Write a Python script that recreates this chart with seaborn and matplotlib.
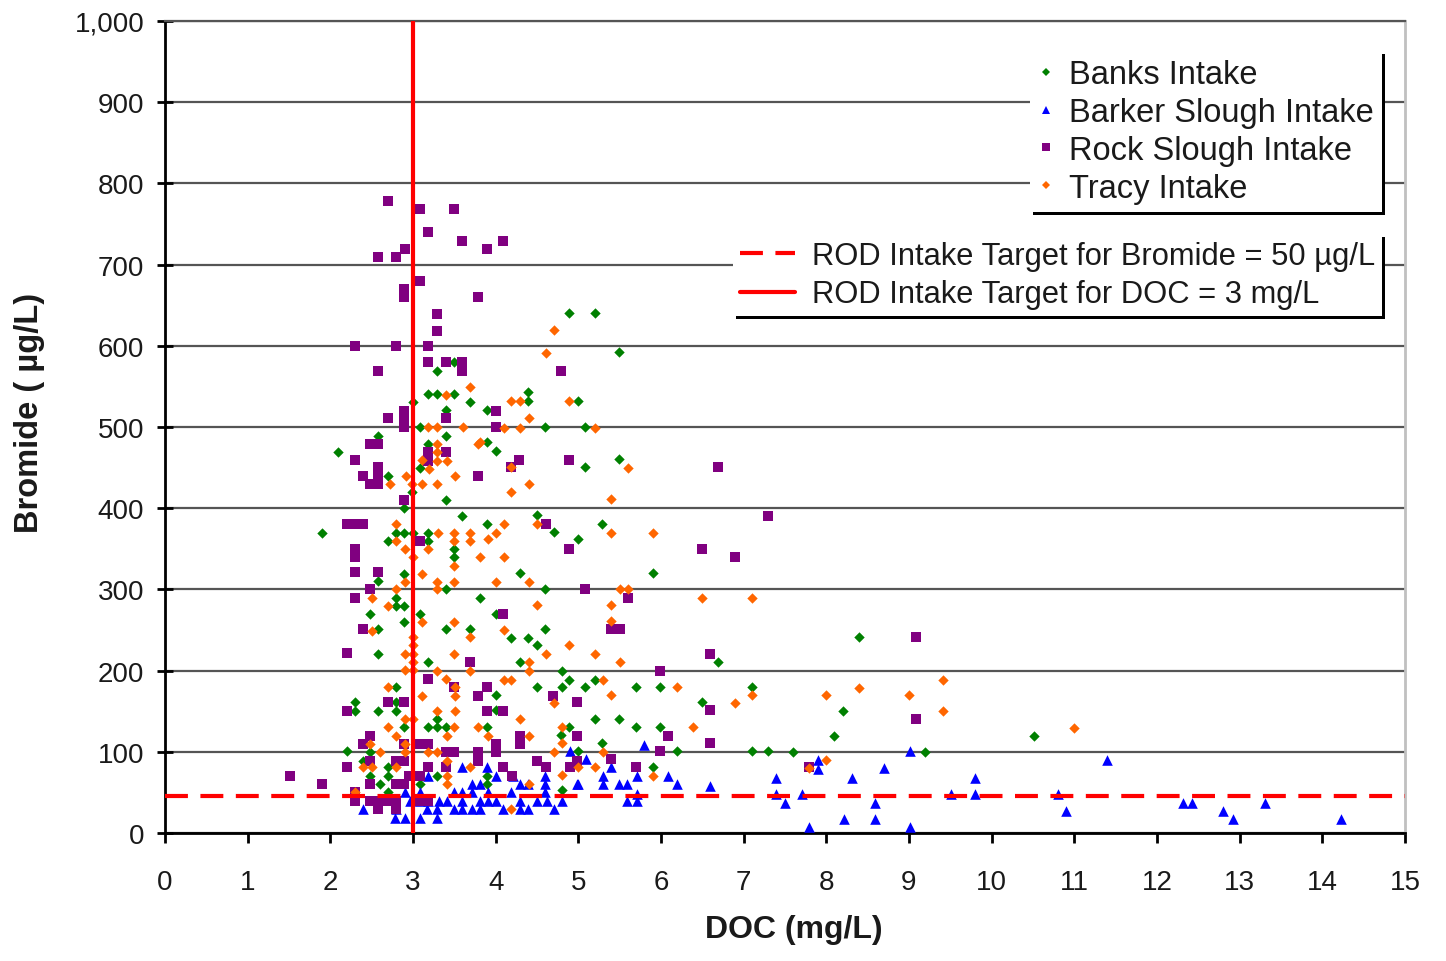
import matplotlib
matplotlib.use("Agg")
import matplotlib.pyplot as plt
import seaborn as sns
import pandas as pd
from matplotlib.lines import Line2D
from matplotlib.ticker import FuncFormatter

# ---------------- data ----------------
series_names = ["Banks Intake", "Barker Slough Intake", "Rock Slough Intake", "Tracy Intake"]

banks_doc = [3.29, 3.49, 3.18, 3.29, 3.49, 3.69, 3.0, 3.40, 3.08, 2.58, 3.40, 3.18, 2.09, 3.08, 2.99, 3.40, 2.70, 2.89,
             4.89, 5.20, 5.49, 4.39, 4.39, 4.99, 3.90, 4.60, 5.08, 3.90, 4.0, 5.49, 5.08, 4.50, 3.90, 4.70, 5.29, 4.99,
             4.29, 5.90, 4.60, 3.81, 4.0, 4.60, 4.19, 4.39, 4.50, 4.29, 6.69, 4.80, 4.89, 5.20, 4.5, 4.8, 5.08, 5.70,
             5.99, 4.0, 4.0, 6.50, 7.10, 5.20, 5.49, 3.90, 4.89, 5.70, 5.99, 4.79, 5.29, 4.99, 6.19, 7.10, 7.29, 5.90,
             3.9, 3.9, 4.80,
             1.90, 2.8, 2.89, 3.0, 3.18, 3.18, 3.59, 2.70, 3.49, 3.49, 2.89, 2.58, 3.40, 2.8, 2.8, 2.89, 2.48, 3.08,
             2.89, 3.40, 3.69, 2.58, 2.58, 3.18, 2.80, 2.30, 2.30, 2.8, 2.8, 2.58, 3.29, 3.18, 3.29, 3.40, 2.89, 2.20,
             2.39, 2.48, 2.70, 2.70, 2.48, 2.60, 3.08, 3.29, 2.70,
             8.39, 8.20, 8.09, 10.51, 7.60, 9.19]
banks_br = [569, 580, 541, 541, 541, 531, 531, 521, 500, 489, 489, 479, 469, 450, 420, 410, 440, 400,
            640, 640, 592, 543, 532, 532, 521, 500, 500, 481, 470, 460, 451, 392, 381, 371, 381, 362,
            320, 320, 300, 290, 270, 251, 240, 240, 232, 211, 211, 200, 189, 189, 180, 180, 180, 180,
            180, 170, 151, 161, 180, 140, 140, 130, 130, 130, 130, 121, 111, 101, 101, 101, 101, 81,
            70, 60, 53,
            370, 370, 370, 370, 370, 360, 390, 360, 350, 340, 319, 310, 300, 290, 280, 280, 270, 270,
            260, 251, 251, 251, 220, 210, 180, 161, 150, 161, 150, 150, 140, 130, 130, 130, 130, 101,
            89, 100, 81, 70, 70, 60, 60, 70, 50,
            241, 150, 120, 120, 100, 100]

barker_doc = [3.59, 3.18, 3.71, 2.90, 3.08, 3.49, 3.59, 3.71, 2.96, 3.08, 3.18, 3.31, 3.41, 3.59,
              2.40, 2.80, 3.17, 3.29, 3.49, 3.59, 3.71, 2.78, 2.90, 3.08, 3.29,
              3.89, 4.01, 4.21, 4.60, 3.81, 4.29, 4.39, 4.60, 4.98, 3.91, 4.19, 4.60, 3.81, 3.91, 4.01, 4.29,
              4.50, 4.62, 3.81, 4.09, 4.29, 4.39, 4.70, 4.80, 4.90,
              5.80, 5.09, 5.40, 5.30, 5.71, 6.09, 5.0, 5.30, 5.49, 5.59, 6.19, 5.71, 5.59, 5.71,
              6.59, 7.39, 7.39, 7.50, 7.71, 7.90, 7.90, 7.79, 8.21, 8.31, 8.59, 8.59, 8.70, 9.01, 9.01,
              9.51, 9.80, 9.80, 10.80, 10.90, 11.40, 12.31, 12.42, 12.80, 12.92, 13.31, 14.23]
barker_br = [81, 70, 60, 50, 50, 50, 50, 50, 40, 40, 40, 40, 40, 40,
             30, 30, 30, 30, 30, 30, 30, 19, 19, 19, 19,
             81, 70, 70, 70, 60, 60, 60, 60, 60, 50, 50, 50, 40, 40, 40, 40,
             40, 40, 30, 30, 30, 30, 30, 40, 101,
             108, 91, 81, 70, 70, 70, 60, 60, 60, 60, 60, 48, 40, 40,
             58, 68, 48, 37, 48, 90, 79, 8, 17, 68, 37, 17, 80, 101, 8,
             48, 68, 48, 48, 27, 90, 37, 37, 27, 17, 37, 17]

rock_doc = [2.70, 3.08, 3.49, 3.18, 3.59, 4.09, 2.90, 3.89, 2.58, 2.80, 3.08, 2.89, 2.89, 3.79, 3.29, 3.29,
            2.30, 2.80, 3.18, 3.18, 3.40, 3.59, 3.59, 2.58, 4.79, 4.00, 2.89, 2.89, 2.89, 2.70, 3.40, 4.00,
            2.48, 2.58, 2.30, 3.18, 3.18, 3.40, 4.28, 4.89, 4.19, 2.39, 2.58, 2.48, 2.58, 2.58, 3.79, 2.89,
            6.69,
            2.2, 2.3, 2.4, 4.61, 3.08, 2.30, 2.30, 4.89, 2.30, 2.58, 2.48, 2.30, 4.09, 2.39, 2.20, 3.69,
            3.18, 3.49, 3.89, 3.79, 4.69, 2.70, 2.89, 2.20, 3.89, 4.09, 4.98, 2.48, 2.39, 4.29, 4.29, 2.89,
            3.08, 3.18, 4.0, 4.0, 3.40, 3.49, 3.79, 3.79, 4.98, 2.48, 2.80, 2.89, 2.20, 3.18, 3.40, 4.09,
            4.50, 4.61, 4.9, 4.98, 1.51, 1.90, 2.48, 2.80, 2.89, 2.95, 3.08, 4.2, 2.3, 2.3, 2.48, 2.58,
            2.70, 2.80, 2.58, 2.80, 3.08, 3.18,
            7.29, 6.50, 6.90, 5.08, 5.60, 5.40, 5.50, 6.59, 5.99, 6.59, 6.09, 6.59, 5.99, 5.40, 5.70,
            9.09, 9.09, 7.79]
rock_br = [778, 768, 768, 740, 729, 729, 719, 719, 709, 709, 680, 670, 660, 660, 639, 618,
           600, 600, 600, 580, 580, 580, 569, 569, 569, 520, 520, 510, 500, 511, 511, 500,
           479, 479, 459, 469, 458, 469, 459, 459, 451, 440, 451, 430, 430, 440, 440, 410,
           451,
           380, 380, 380, 380, 360, 350, 340, 350, 321, 321, 300, 290, 270, 251, 222, 210,
           190, 180, 180, 169, 169, 161, 161, 150, 150, 150, 161, 120, 110, 120, 110, 110,
           110, 110, 110, 100, 100, 100, 100, 89, 120, 89, 89, 89, 81, 81, 81, 81,
           89, 81, 81, 89, 70, 60, 60, 60, 60, 70, 70, 70, 50, 40, 40, 40,
           40, 40, 30, 30, 40, 40,
           391, 350, 340, 300, 290, 251, 251, 221, 200, 151, 120, 111, 101, 91, 81,
           241, 140, 81]

tracy_doc = [3.69, 3.40, 3.18, 3.29, 3.60, 3.79, 3.29, 3.11, 3.29, 3.41, 3.29, 3.19, 2.91, 3.51, 2.72, 3.11,
             3.29, 2.99,
             4.70, 4.61, 4.19, 4.29, 4.89, 4.40, 4.10, 4.29, 5.20, 3.81, 4.19, 5.60, 4.40, 4.19, 5.40, 4.10,
             4.0, 3.91, 4.50, 5.40, 5.90, 3.81, 4.10, 4.0, 4.40, 5.50, 5.60, 6.50, 7.10, 4.50, 5.40, 5.40,
             4.10, 4.61, 4.89, 5.20, 5.50, 4.40, 4.40, 4.10, 4.19, 5.30, 6.19, 4.70, 5.40, 6.90, 7.10, 4.29,
             6.39, 3.91, 4.40, 4.80, 4.80, 4.70, 5.30, 5.0, 5.20, 4.80, 5.90, 4.40, 4.19,
             2.80, 3.30, 3.49, 3.69, 2.8, 3.49, 3.69, 2.9, 3.18, 3.0, 3.49, 3.11, 2.9, 3.29, 3.49, 3.29,
             2.80, 2.50, 2.70, 3.11, 3.49, 2.50, 3.69, 3.0, 3.0, 3.0, 3.0, 3.0, 2.90, 2.90, 3.49, 3.29,
             3.40, 3.69, 2.70, 3.51, 3.11, 3.51, 3.29, 3.51, 2.9, 3.0, 2.70, 3.49, 3.79, 2.80, 3.41, 2.48,
             2.9, 2.6, 2.9, 3.18, 3.29, 3.41, 2.39, 2.5, 2.8, 3.69, 3.41, 3.41, 2.30,
             7.99, 8.39, 9.0, 9.41, 9.41, 11.0, 7.99, 7.79]
tracy_br = [549, 539, 500, 500, 500, 479, 479, 459, 469, 458, 458, 448, 440, 440, 430, 430,
            430, 430,
            619, 591, 532, 532, 532, 511, 499, 499, 499, 481, 451, 450, 430, 420, 411, 381,
            370, 362, 381, 370, 370, 340, 340, 309, 309, 300, 300, 289, 289, 281, 281, 261,
            250, 221, 232, 221, 211, 211, 200, 189, 189, 189, 180, 160, 170, 160, 170, 140,
            130, 119, 120, 130, 111, 100, 100, 81, 81, 71, 70, 60, 30,
            380, 370, 370, 370, 360, 360, 360, 350, 350, 340, 329, 319, 309, 309, 309, 300,
            300, 290, 280, 260, 260, 249, 241, 241, 231, 221, 211, 201, 221, 201, 220, 200,
            190, 200, 180, 180, 169, 169, 150, 150, 141, 141, 130, 130, 130, 120, 120, 110,
            110, 100, 100, 100, 100, 89, 81, 81, 81, 81, 70, 60, 50,
            170, 179, 170, 189, 150, 129, 90, 80]

doc_target = 3.0
bromide_target_drawn = 45
target_labels = ["ROD Intake Target for Bromide = 50 \u00b5g/L", "ROD Intake Target for DOC = 3 mg/L"]
x_ticks = list(range(0, 16))
y_ticks = list(range(0, 1001, 100))

# ---------------- style ----------------
sns.set_theme(style="white")
plt.rcParams["font.family"] = ["Liberation Sans", "DejaVu Sans"]

colors = {"Banks Intake": "#008000", "Barker Slough Intake": "#0000FF",
          "Rock Slough Intake": "#800080", "Tracy Intake": "#FF6600"}
markers = {"Banks Intake": "D", "Barker Slough Intake": "^",
           "Rock Slough Intake": "s", "Tracy Intake": "D"}
sizes = {"Banks Intake": 28, "Barker Slough Intake": 58,
         "Rock Slough Intake": 48, "Tracy Intake": 28}

frames = []
for name, xs, ys in zip(series_names,
                        [banks_doc, barker_doc, rock_doc, tracy_doc],
                        [banks_br, barker_br, rock_br, tracy_br]):
    frames.append(pd.DataFrame({"DOC": xs, "Bromide": ys, "Intake": name}))
df = pd.concat(frames, ignore_index=True)

W, H = 1446, 962
fig = plt.figure(figsize=(W / 100, H / 100), dpi=100)
fig.patch.set_facecolor("white")
ax = fig.add_axes([165 / W, 1 - 834 / H, (1405 - 165) / W, (834 - 22) / H])

for name in series_names:
    sub = df[df["Intake"] == name]
    sns.scatterplot(data=sub, x="DOC", y="Bromide", color=colors[name], marker=markers[name],
                    s=sizes[name], linewidth=0, ax=ax, legend=False, zorder=3)

ax.axvline(doc_target, color="#FF0000", lw=3, zorder=5)
ax.axhline(bromide_target_drawn, color="#FF0000", lw=3, dashes=(5.5, 3), zorder=5)

ax.set_xlim(0, 15)
ax.set_ylim(0, 1000)
ax.set_xticks(x_ticks)
ax.set_yticks(y_ticks)
ax.yaxis.set_major_formatter(FuncFormatter(lambda v, p: f"{int(v):,}"))
ax.yaxis.grid(True, color="#555555", lw=1.6)
ax.xaxis.grid(False)
ax.set_axisbelow(True)

for side in ["left", "bottom"]:
    ax.spines[side].set_color("black")
    ax.spines[side].set_linewidth(2)
ax.spines["top"].set_color("#555555")
ax.spines["top"].set_linewidth(1.6)
ax.spines["right"].set_color("#C0C0C0")
ax.spines["right"].set_linewidth(2)

ax.tick_params(axis="x", direction="out", length=7, width=2, color="black",
               labelsize=20, pad=19, bottom=True)
ax.tick_params(axis="y", direction="inout", length=12, width=2, color="black",
               labelsize=20, pad=9, left=True)
for lab in ax.get_xticklabels() + ax.get_yticklabels():
    lab.set_color("#1a1a1a")

ax.set_xlabel("DOC (mg/L)", fontsize=23, fontweight="bold", color="#1a1a1a")
ax.xaxis.label.set_va("center")
ax.xaxis.set_label_coords((794 - 165) / 1240, -(930 - 834) / 812)
ax.set_ylabel("Bromide ( \u00b5g/L)", fontsize=23.5, fontweight="bold", color="#1a1a1a")
ax.yaxis.label.set_va("center")
ax.yaxis.set_label_coords((30 - 165) / 1240, (834 - 413) / 812)

# legend 1: series
handles1 = [Line2D([], [], ls="", marker=markers[n], color=colors[n],
                   markersize={"Banks Intake": 4.5, "Barker Slough Intake": 6,
                               "Rock Slough Intake": 5.5, "Tracy Intake": 4.5}[n],
                   markeredgewidth=0) for n in series_names]
shadow_props = {"ox": 2.2, "oy": -2.2, "color": "black", "alpha": 1}
leg1 = ax.legend(handles1, series_names, loc="upper right",
                 bbox_to_anchor=(1382 / W, 1 - 52 / H), bbox_transform=fig.transFigure,
                 fontsize=23.5, frameon=True, fancybox=False, framealpha=1,
                 edgecolor="white", facecolor="white", shadow=shadow_props,
                 handlelength=0.5, handletextpad=0.45, labelspacing=0.21,
                 borderpad=0.25, borderaxespad=0)
leg1.get_frame().set_linewidth(0)
for t in leg1.get_texts():
    t.set_color("#1a1a1a")
ax.add_artist(leg1)

handles2 = [Line2D([], [], color="#FF0000", lw=3, dashes=(5.5, 3)),
            Line2D([], [], color="#FF0000", lw=3)]
leg2 = ax.legend(handles2, target_labels, loc="upper right",
                 bbox_to_anchor=(1382 / W, 1 - 235 / H), bbox_transform=fig.transFigure,
                 fontsize=22.2, frameon=True, fancybox=False, framealpha=1,
                 edgecolor="white", facecolor="white", shadow=shadow_props,
                 handlelength=1.8, handletextpad=0.55, labelspacing=0.28,
                 borderpad=0.22, borderaxespad=0)
leg2.get_frame().set_linewidth(0)
for t in leg2.get_texts():
    t.set_color("#1a1a1a")
leg1.set_zorder(10)
leg2.set_zorder(10)

fig.savefig("out.png", dpi=100, facecolor="white")
